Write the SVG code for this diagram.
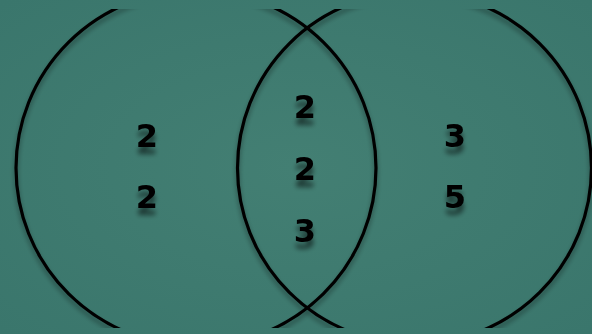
<svg xmlns="http://www.w3.org/2000/svg" width="592" height="334" viewBox="0 0 592 334">
<defs>
<radialGradient id="bg" cx="0.5" cy="0.5" r="0.7">
<stop offset="0" stop-color="#437f73"/>
<stop offset="1" stop-color="#3a766c"/>
</radialGradient>
<clipPath id="clip"><rect x="0" y="9" width="592" height="319"/></clipPath>
<filter id="sh" x="-20%" y="-20%" width="140%" height="160%">
<feGaussianBlur in="SourceAlpha" stdDeviation="2.5"/>
<feOffset dx="0" dy="7" result="b"/>
<feComponentTransfer><feFuncA type="linear" slope="0.55"/></feComponentTransfer>
<feMerge><feMergeNode/><feMergeNode in="SourceGraphic"/></feMerge>
</filter>
<filter id="csh" x="-10%" y="-10%" width="120%" height="120%">
<feGaussianBlur in="SourceAlpha" stdDeviation="2.5"/>
<feOffset dx="0" dy="4" result="b"/>
<feComponentTransfer><feFuncA type="linear" slope="0.4"/></feComponentTransfer>
<feMerge><feMergeNode/><feMergeNode in="SourceGraphic"/></feMerge>
</filter>
</defs>
<style>
.c{fill:none;stroke:#000;stroke-width:3.2}
.t{font-family:"DejaVu Sans",Verdana,sans-serif;font-weight:bold;font-size:32px;fill:#000;text-anchor:middle}
</style>
<rect width="592" height="334" fill="url(#bg)"/>
<g id="circles" clip-path="url(#clip)" filter="url(#csh)">
<g id="setA"><ellipse class="c" cx="196" cy="168" rx="180" ry="178"/></g>
<g id="setB"><ellipse class="c" cx="414.5" cy="168" rx="177" ry="176"/></g>
</g>
<g id="labels" filter="url(#sh)">
<g id="onlyA"><text class="t" x="147" y="147">2</text><text class="t" x="147" y="208">2</text></g>
<g id="both"><text class="t" x="305" y="118">2</text><text class="t" x="305" y="180">2</text><text class="t" x="305" y="242">3</text></g>
<g id="onlyB"><text class="t" x="455" y="147">3</text><text class="t" x="455" y="208">5</text></g>
</g>
</svg>
